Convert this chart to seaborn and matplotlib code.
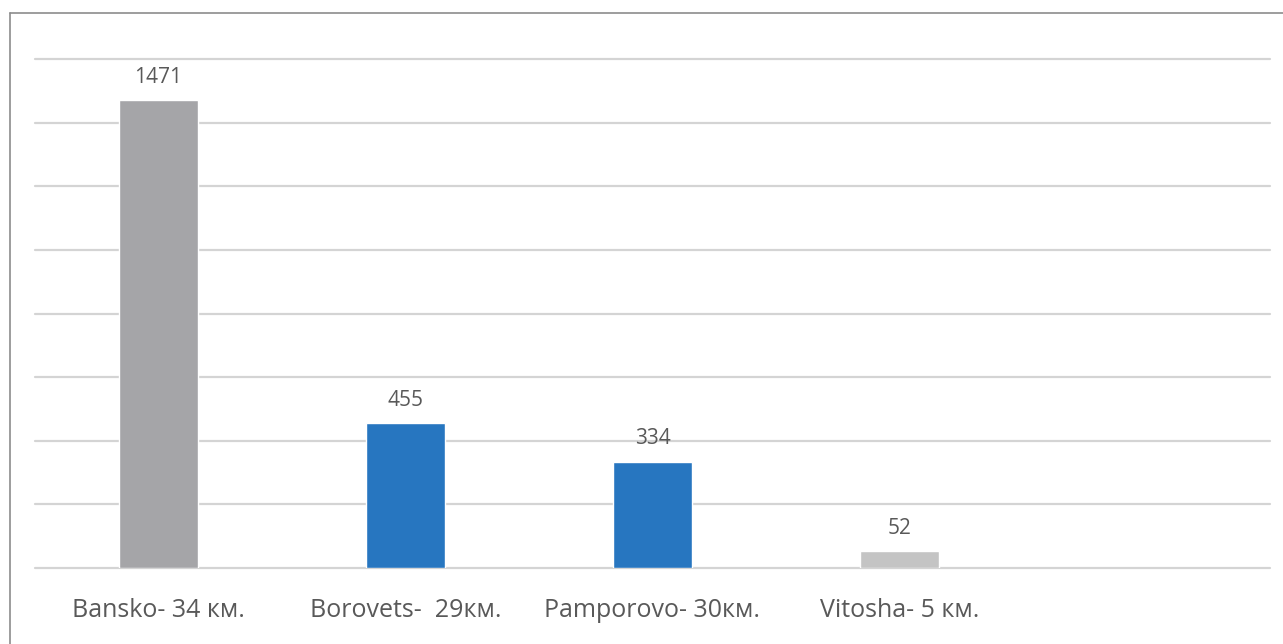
import matplotlib
matplotlib.use("Agg")
import matplotlib.pyplot as plt
from matplotlib.lines import Line2D
import seaborn as sns
import pandas as pd

# Ski runs length by resort
resorts = ["Bansko- 34 км.", "Borovets-  29км.", "Pamporovo- 30км.", "Vitosha- 5 км."]
values = [1471, 455, 334, 52]
bar_colors = ["#A5A5A8", "#2776C0", "#2776C0", "#C4C4C4"]

W, H = 1283, 644
fig = plt.figure(figsize=(W / 100, H / 100), dpi=100)
sns.set_style("white")
plt.rcParams["font.family"] = ["Open Sans", "DejaVu Sans"]

ax = fig.add_axes([35 / W, (H - 568) / H, (1270 - 35) / W, (568 - 59) / H])

df = pd.DataFrame({"resort": resorts, "value": values})
sns.barplot(data=df, x="resort", y="value", hue="resort", palette=bar_colors,
            order=resorts, width=0.316, legend=False, ax=ax, saturation=1)

ax.set_xlim(-0.5, 4.5)
ax.set_ylim(0, 1600)
ax.set_yticks(range(0, 1601, 200))
ax.yaxis.grid(True, color="#D4D4D4", linewidth=1.6)
for gl in ax.get_ygridlines():
    gl.set_clip_on(False)
ax.set_axisbelow(True)
for s in ax.spines.values():
    s.set_visible(False)
ax.tick_params(axis="y", left=False, labelleft=False)
ax.tick_params(axis="x", bottom=False, pad=18, labelsize=18, labelcolor="#595959")
ax.set_xlabel("")
ax.set_ylabel("")

for i, v in enumerate(values):
    ax.annotate(str(v), (i, v), xytext=(0, 9), textcoords="offset points",
                ha="center", va="bottom", fontsize=15, color="#595959")

# outer chart frame (top and left edges)
frame_color = "#8C8C8C"
fig.add_artist(Line2D([10 / W, 1.0], [1 - 13 / H, 1 - 13 / H], transform=fig.transFigure,
                      color=frame_color, linewidth=1.2))
fig.add_artist(Line2D([10 / W, 10 / W], [0.0, 1 - 13 / H], transform=fig.transFigure,
                      color=frame_color, linewidth=1.2))

fig.savefig("out.png", dpi=100, facecolor="white")
